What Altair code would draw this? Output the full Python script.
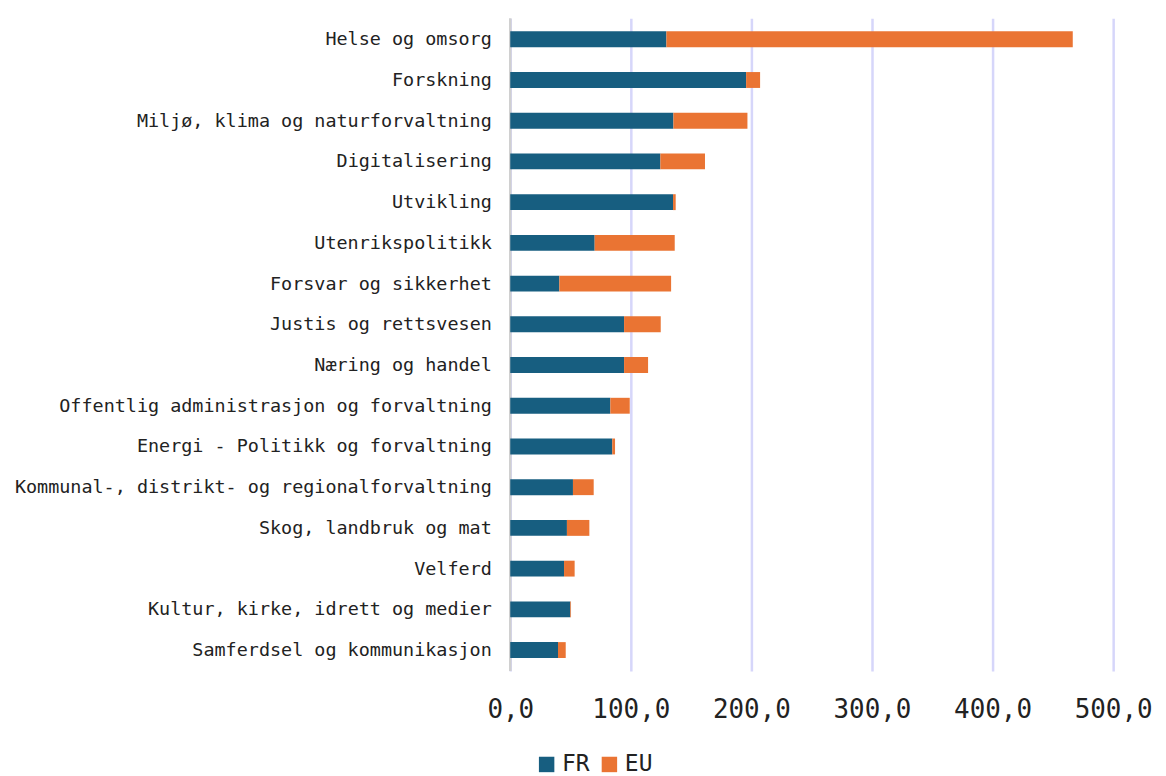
import altair as alt
import pandas as pd

categories = [
    "Helse og omsorg",
    "Forskning",
    "Miljø, klima og naturforvaltning",
    "Digitalisering",
    "Utvikling",
    "Utenrikspolitikk",
    "Forsvar og sikkerhet",
    "Justis og rettsvesen",
    "Næring og handel",
    "Offentlig administrasjon og forvaltning",
    "Energi - Politikk og forvaltning",
    "Kommunal-, distrikt- og regionalforvaltning",
    "Skog, landbruk og mat",
    "Velferd",
    "Kultur, kirke, idrett og medier",
    "Samferdsel og kommunikasjon",
]
fr_values = [129.5, 195.6, 135.3, 124.5, 135.0, 70.0, 40.7, 94.4, 94.4, 83.0, 84.6, 52.0, 47.0, 44.6, 49.8, 39.6]
eu_values = [337.0, 11.6, 61.4, 37.0, 2.2, 66.4, 92.7, 30.4, 19.9, 16.1, 2.3, 17.2, 18.6, 8.8, 0.6, 6.4]
series = ["FR", "EU"]
colors = ["#175e80", "#ea7433"]

rows = []
for c, f, e in zip(categories, fr_values, eu_values):
    rows.append({"kategori": c, "serie": "FR", "verdi": f, "rekkefolge": 0})
    rows.append({"kategori": c, "serie": "EU", "verdi": e, "rekkefolge": 1})
df = pd.DataFrame(rows)

FONT = "DejaVu Sans Mono"

bars = alt.Chart(df).mark_bar().encode(
    y=alt.Y("kategori:N", sort=categories, title=None,
            scale=alt.Scale(paddingInner=0.61, paddingOuter=0.32),
            axis=alt.Axis(labelFont=FONT, labelFontSize=18.5, labelColor="#222222",
                          ticks=False, domain=False, labelPadding=19, labelLimit=600)),
    x=alt.X("verdi:Q", title=None, stack="zero",
            scale=alt.Scale(domain=[0, 500], nice=False),
            axis=alt.Axis(values=[0, 100, 200, 300, 400, 500],
                          labelExpr="replace(format(datum.value, '.1f'), '.', ',')",
                          labelFont=FONT, labelFontSize=26, labelColor="#222222",
                          ticks=False, domain=False, labelPadding=26,
                          grid=True, gridColor="#d6d6fa", gridWidth=2.5,
                          labelFlush=False)),
    color=alt.Color("serie:N", scale=alt.Scale(domain=series, range=colors),
                    legend=alt.Legend(title=None, orient="none", direction="horizontal",
                                      legendX=25, legendY=737, symbolType="square",
                                      symbolSize=240, symbolStrokeWidth=0,
                                      labelFont=FONT, labelFontSize=23, labelColor="#222222",
                                      columnPadding=8, labelOffset=4, padding=0)),
    order=alt.Order("rekkefolge:Q"),
)

zero = alt.Chart(pd.DataFrame({"v": [0]})).mark_rule(color="#d0d0d0", strokeWidth=2.5).encode(
    x=alt.X("v:Q")
)

chart = alt.layer(zero, bars).properties(
    width=605, height=655,
    padding={"left": 6, "top": 7, "right": 5, "bottom": 0},
).configure_view(stroke=None)

chart.save("out.html", embed_options={"renderer": "svg", "actions": False})
